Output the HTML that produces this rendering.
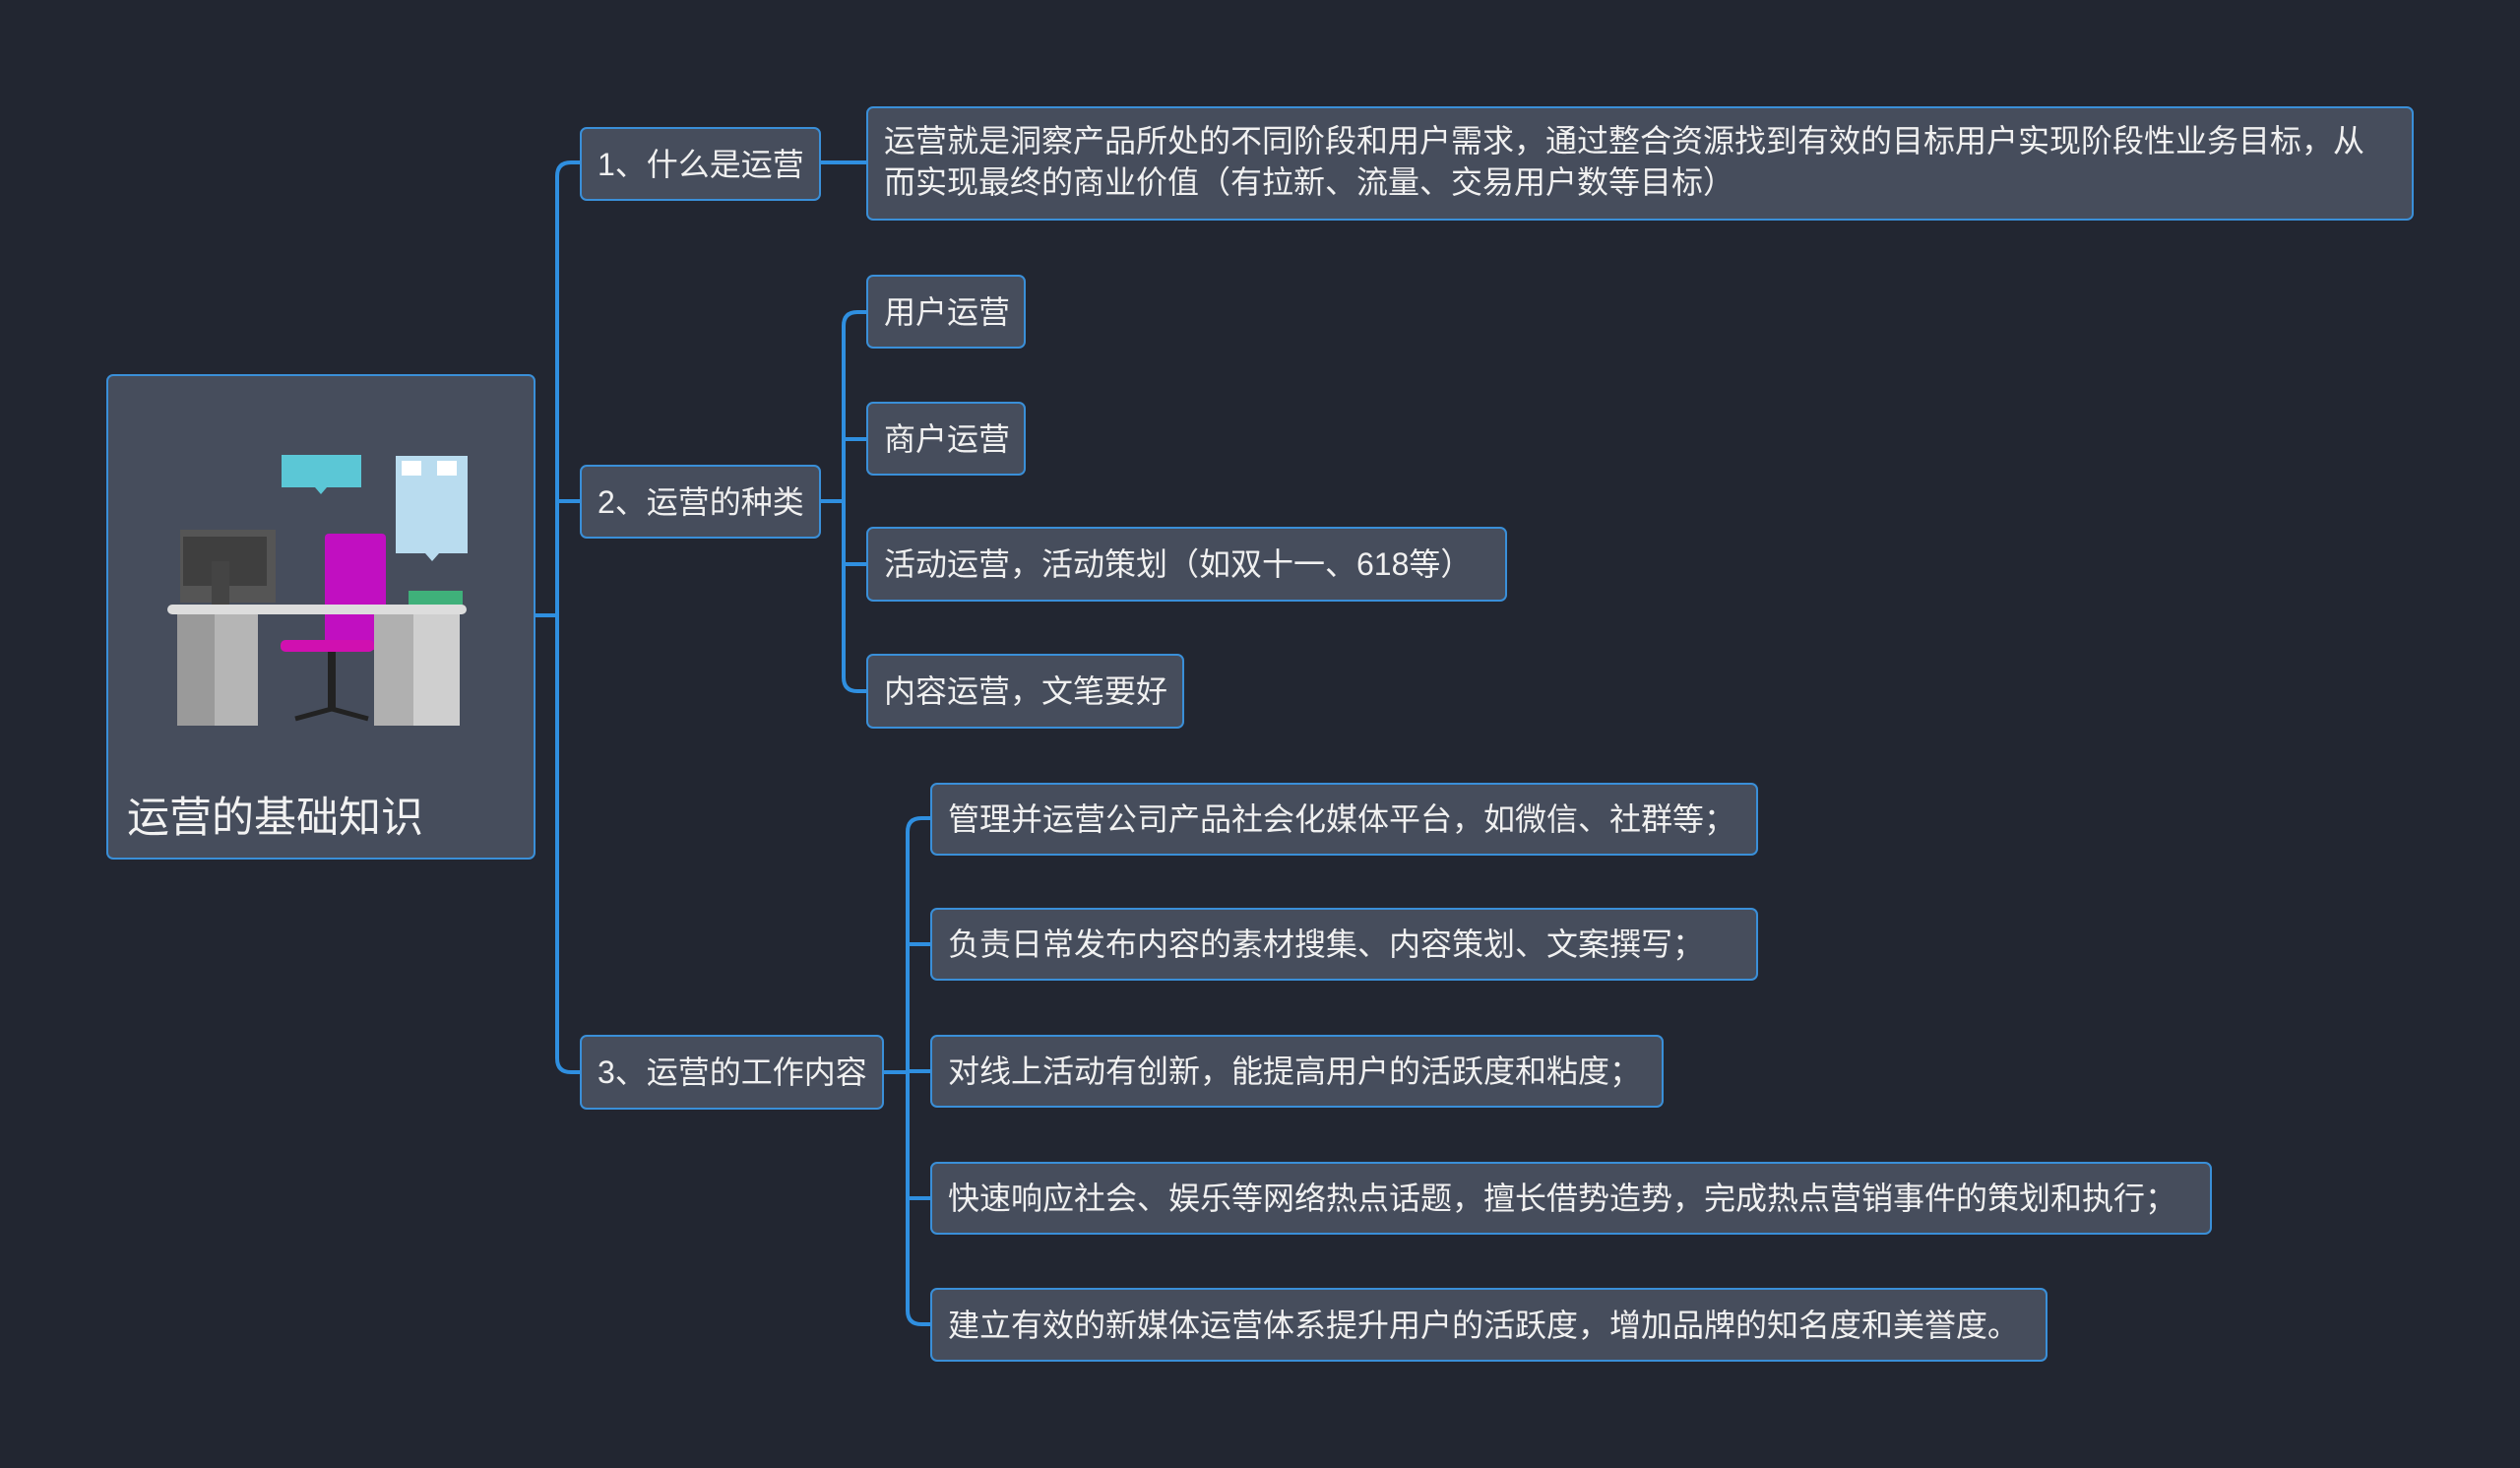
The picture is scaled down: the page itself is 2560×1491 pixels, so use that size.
<!DOCTYPE html>
<html><head><meta charset="utf-8"><style>
body{margin:0;width:2560px;height:1491px;background:#222631;overflow:hidden;position:relative;font-family:"Liberation Sans","Noto Sans CJK SC",sans-serif;}
.n{position:absolute;box-sizing:border-box;background:#464d5c;border:2px solid #3a8fd8;border-radius:7px;color:#f0f0f0;font-size:32px;line-height:42px;padding:0 16px;display:flex;align-items:center;white-space:nowrap;}
svg{position:absolute;left:0;top:0;}
</style></head><body>
<svg width="2560" height="1491">
<g fill="none" stroke="#2f8fe0" stroke-width="4">
<path d="M543 625 H566"/>
<path d="M589 165 H580 Q566 165 566 179 V1075 Q566 1089 580 1089 H589"/>
<path d="M566 509 H589"/>
<path d="M834 165 H880"/>
<path d="M834 509 H857"/>
<path d="M880 317 H871 Q857 317 857 331 V688 Q857 702 871 702 H880"/>
<path d="M857 446 H880 M857 573 H880"/>
<path d="M898 1089 H922"/>
<path d="M945 831 H936 Q922 831 922 845 V1331 Q922 1345 936 1345 H945"/>
<path d="M922 959 H945 M922 1088 H945 M922 1217 H945"/>
</g>
</svg>
<div class="n" style="left:108px;top:380px;width:436px;height:493px;display:block;padding:0"></div>
<svg width="2560" height="1491">
<rect x="286" y="462" width="81" height="33" fill="#5bc7d6"/><path d="M320 495 l6 7 l6 -7z" fill="#5bc7d6"/>
<rect x="402" y="463" width="73" height="99" fill="#b9dcef"/><path d="M432 562 l7 8 l7 -8z" fill="#b9dcef"/>
<rect x="408" y="468" width="20" height="15" fill="#fff"/><rect x="444" y="468" width="20" height="15" fill="#fff"/>
<rect x="183" y="538" width="97" height="74" fill="#555"/><rect x="186" y="545" width="85" height="50" fill="#3f3f3f"/><rect x="215" y="570" width="18" height="45" fill="#444"/>
<rect x="330" y="542" width="62" height="118" fill="#c10fc1" rx="4"/>
<rect x="285" y="650" width="95" height="12" fill="#d010b0" rx="5"/>
<rect x="170" y="614" width="304" height="10" fill="#ddd" rx="5"/>
<rect x="180" y="624" width="82" height="113" fill="#9a9a9a"/><rect x="218" y="624" width="44" height="113" fill="#b5b5b5"/>
<rect x="380" y="624" width="87" height="113" fill="#b0b0b0"/><rect x="420" y="624" width="47" height="113" fill="#cfcfcf"/>
<rect x="333" y="662" width="8" height="60" fill="#222"/><path d="M300 730 l37 -10 l37 10" stroke="#222" stroke-width="5" fill="none"/>
<rect x="415" y="600" width="55" height="14" fill="#3fb07a"/>
</svg>
<div style="position:absolute;left:129px;top:796px;font-size:43px;color:#f2f2f2">运营的基础知识</div>
<div class="n" style="left:589px;top:129px;width:245px;height:75px">1、什么是运营</div>
<div class="n" style="left:589px;top:472px;width:245px;height:75px">2、运营的种类</div>
<div class="n" style="left:589px;top:1051px;width:309px;height:76px">3、运营的工作内容</div>
<div class="n" style="left:880px;top:108px;width:1572px;height:116px;white-space:normal;display:block;padding-top:12px">运营就是洞察产品所处的不同阶段和用户需求，通过整合资源找到有效的目标用户实现阶段性业务目标，从<br>而实现最终的商业价值（有拉新、流量、交易用户数等目标）</div>
<div class="n" style="left:880px;top:279px;width:162px;height:75px">用户运营</div>
<div class="n" style="left:880px;top:408px;width:162px;height:75px">商户运营</div>
<div class="n" style="left:880px;top:535px;width:651px;height:76px">活动运营，活动策划（如双十一、618等）</div>
<div class="n" style="left:880px;top:664px;width:323px;height:76px">内容运营，文笔要好</div>
<div class="n" style="left:945px;top:795px;width:841px;height:74px">管理并运营公司产品社会化媒体平台，如微信、社群等；</div>
<div class="n" style="left:945px;top:922px;width:841px;height:74px">负责日常发布内容的素材搜集、内容策划、文案撰写；</div>
<div class="n" style="left:945px;top:1051px;width:745px;height:74px">对线上活动有创新，能提高用户的活跃度和粘度；</div>
<div class="n" style="left:945px;top:1180px;width:1302px;height:74px">快速响应社会、娱乐等网络热点话题，擅长借势造势，完成热点营销事件的策划和执行；</div>
<div class="n" style="left:945px;top:1308px;width:1135px;height:75px">建立有效的新媒体运营体系提升用户的活跃度，增加品牌的知名度和美誉度。</div>
</body></html>
